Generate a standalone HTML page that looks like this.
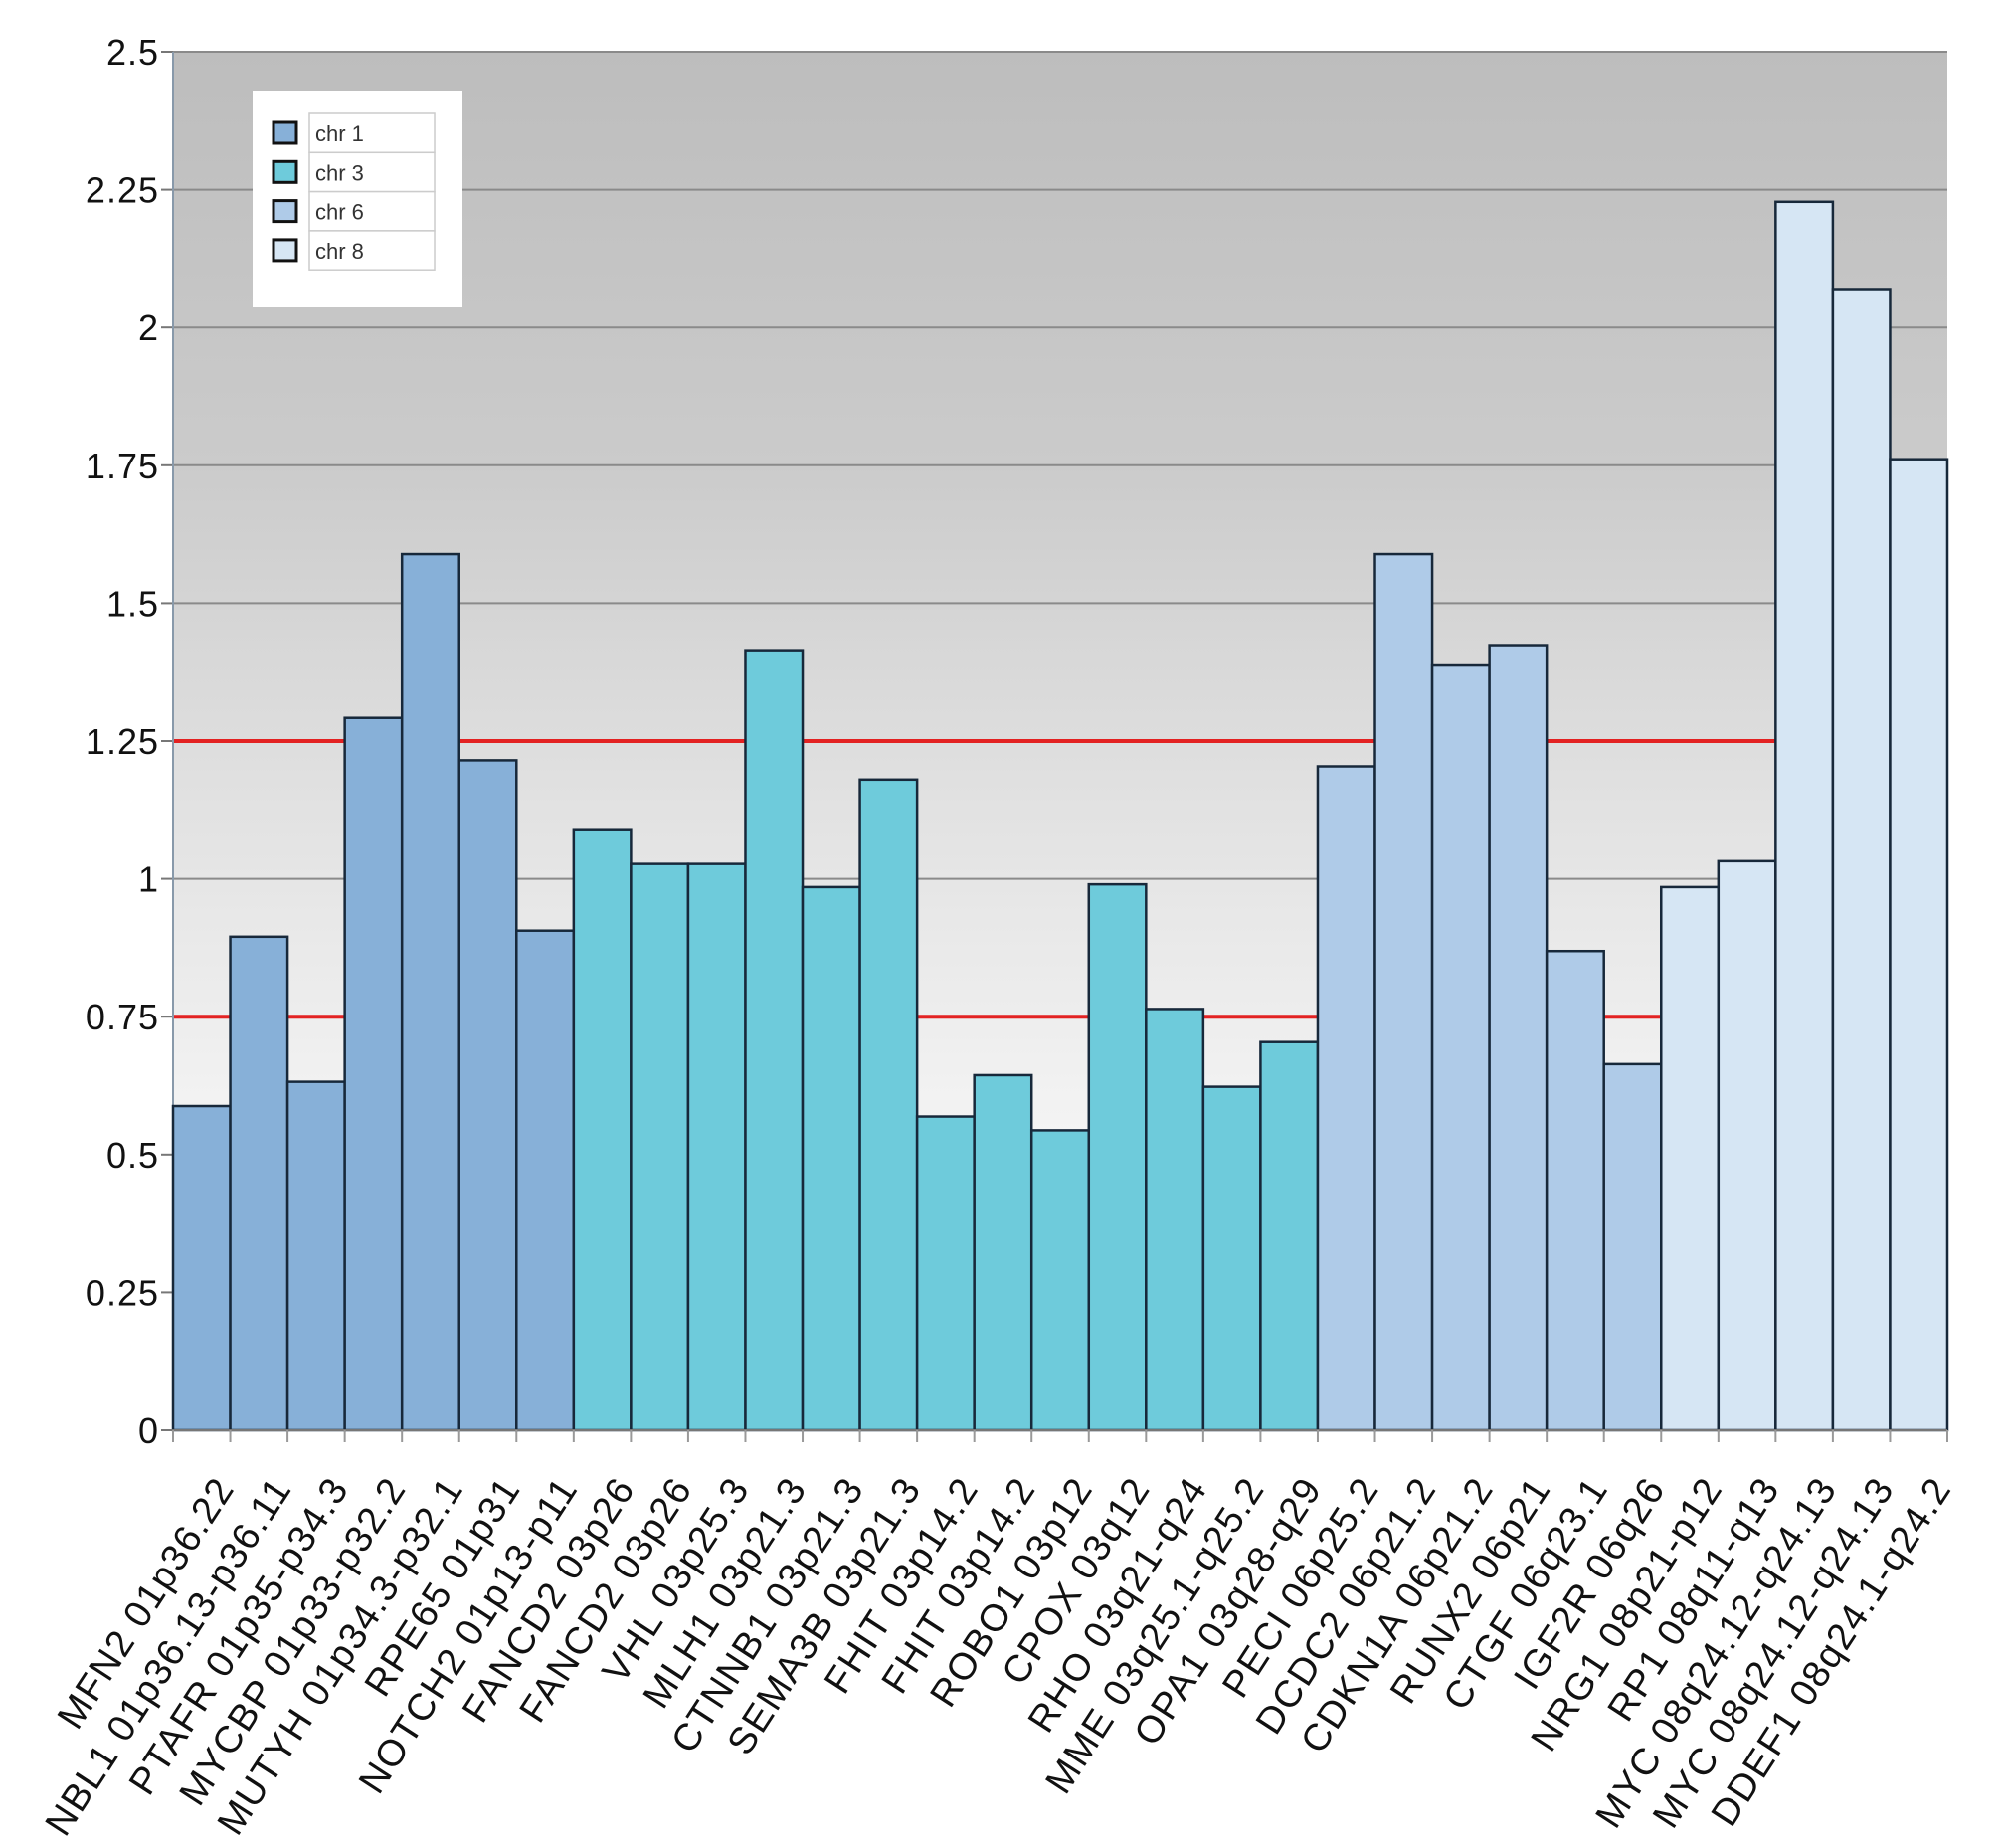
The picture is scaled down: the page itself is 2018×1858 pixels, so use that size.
<!DOCTYPE html>
<html><head><meta charset="utf-8"><style>
html,body{margin:0;padding:0;background:#fff;}
svg{display:block;font-family:"Liberation Sans",Arial,sans-serif;}
</style></head><body>
<svg id="chart" width="2018" height="1858" viewBox="0 0 2018 1858" xmlns="http://www.w3.org/2000/svg">
<defs>
<linearGradient id="bg" x1="0" y1="0" x2="0" y2="1">
<stop offset="0" stop-color="#bdbdbd"/>
<stop offset="0.3" stop-color="#cbcbcb"/>
<stop offset="0.55" stop-color="#e2e2e2"/>
<stop offset="0.8" stop-color="#f5f5f5"/>
<stop offset="1" stop-color="#ffffff"/>
</linearGradient>
</defs>
<g id="plot"></g>
</svg>
<script>
const categories = ["MFN2 01p36.22","NBL1 01p36.13-p36.11","PTAFR 01p35-p34.3","MYCBP 01p33-p32.2","MUTYH 01p34.3-p32.1","RPE65 01p31","NOTCH2 01p13-p11","FANCD2 03p26","FANCD2 03p26","VHL 03p25.3","MLH1 03p21.3","CTNNB1 03p21.3","SEMA3B 03p21.3","FHIT 03p14.2","FHIT 03p14.2","ROBO1 03p12","CPOX 03q12","RHO 03q21-q24","MME 03q25.1-q25.2","OPA1 03q28-q29","PECI 06p25.2","DCDC2 06p21.2","CDKN1A 06p21.2","RUNX2 06p21","CTGF 06q23.1","IGF2R 06q26","NRG1 08p21-p12","RP1 08q11-q13","MYC 08q24.12-q24.13","MYC 08q24.12-q24.13","DDEF1 08q24.1-q24.2"];
const values = [0.588,0.895,0.632,1.292,1.589,1.215,0.906,1.09,1.027,1.027,1.413,0.985,1.18,0.569,0.644,0.544,0.99,0.764,0.623,0.704,1.204,1.589,1.387,1.424,0.869,0.664,0.985,1.032,2.228,2.068,1.761];
const chromosomes = ["chr 1","chr 1","chr 1","chr 1","chr 1","chr 1","chr 1","chr 3","chr 3","chr 3","chr 3","chr 3","chr 3","chr 3","chr 3","chr 3","chr 3","chr 3","chr 3","chr 3","chr 6","chr 6","chr 6","chr 6","chr 6","chr 6","chr 8","chr 8","chr 8","chr 8","chr 8"];
const legendLabels = ["chr 1","chr 3","chr 6","chr 8"];
const yTicks = [0,0.25,0.5,0.75,1,1.25,1.5,1.75,2,2.25,2.5];
const yTickLabels = ["0","0.25","0.5","0.75","1","1.25","1.5","1.75","2","2.25","2.5"];
const thresholds = [0.75,1.25];

const colorMap = {"chr 1":"#87b0d8","chr 3":"#6ecbdb","chr 6":"#afcbe8","chr 8":"#d6e6f4"};
const L=174,R=1958,T=52,B=1438,yMax=2.5;
const NS="http://www.w3.org/2000/svg";
const bw=(R-L)/categories.length;
function y(v){return B-(v/yMax)*(B-T);}
function x(i){return L+i*bw;}
const g=document.getElementById('plot');
function mk(tag,attrs,parent){const e=document.createElementNS(NS,tag);for(const k in attrs)e.setAttribute(k,attrs[k]);(parent||g).appendChild(e);return e;}

const bg=mk('rect',{x:L,y:T,width:R-L,height:B-T,fill:'url(#bg)'});



yTicks.forEach((t,i)=>{
  if(t>0){const gl=mk('line',{x1:L,x2:R,y1:y(t),y2:y(t),stroke:'#8a8a8a','stroke-width':2});
  
  }
  const tk=mk('line',{x1:L-12,x2:L,y1:y(t),y2:y(t),stroke:'#777','stroke-width':2});
  
  
  const lb=mk('text',{x:L-14,y:y(t)+13,'text-anchor':'end','font-size':36,fill:'#111','letter-spacing':1});
  lb.textContent=yTickLabels[i];
  
  
});

thresholds.forEach(t=>{
  const rl=mk('line',{x1:L,x2:R,y1:y(t),y2:y(t),stroke:'#e32222','stroke-width':4});
  
  
});

const ax=mk('line',{x1:L,x2:L,y1:T,y2:B,stroke:'#8899aa','stroke-width':2});



values.forEach((v,i)=>{
  const r=mk('rect',{x:x(i),y:y(v),width:bw,height:B-y(v),fill:colorMap[chromosomes[i]],stroke:'#17283a','stroke-width':2.5});
  
  
});

const xa=mk('line',{x1:L-12,x2:R,y1:B,y2:B,stroke:'#777','stroke-width':2});



categories.forEach((c,i)=>{
  const tx=x(i);
  const tk=mk('line',{x1:tx,x2:tx,y1:B,y2:B+12,stroke:'#999','stroke-width':2});
  
  
  const cx=x(i)+bw/2+34, cy=1496;
  const t=mk('text',{x:cx,y:cy,'text-anchor':'end','font-size':38,'letter-spacing':1.5,fill:'#111',transform:`rotate(-57 ${cx} ${cy})`});
  t.textContent=c;
  
  
});
const lx=mk('line',{x1:R,x2:R,y1:B,y2:B+12,stroke:'#999','stroke-width':2});



const lg=mk('g',{});


mk('rect',{x:254,y:91,width:211,height:218,fill:'#fff'},lg);
legendLabels.forEach((lab,i)=>{
  const ry=114+i*39.3;
  const sw=mk('rect',{x:275,y:ry+9,width:23,height:21,fill:colorMap[lab],stroke:'#111','stroke-width':3},lg);
  
  
  mk('rect',{x:311,y:ry,width:126,height:39.3,fill:'#fff',stroke:'#ccc','stroke-width':1.5},lg);
  const tt=mk('text',{x:317,y:ry+28,'font-size':22,fill:'#333'},lg);
  tt.textContent=lab;
  
  
});
</script>
</body></html>
